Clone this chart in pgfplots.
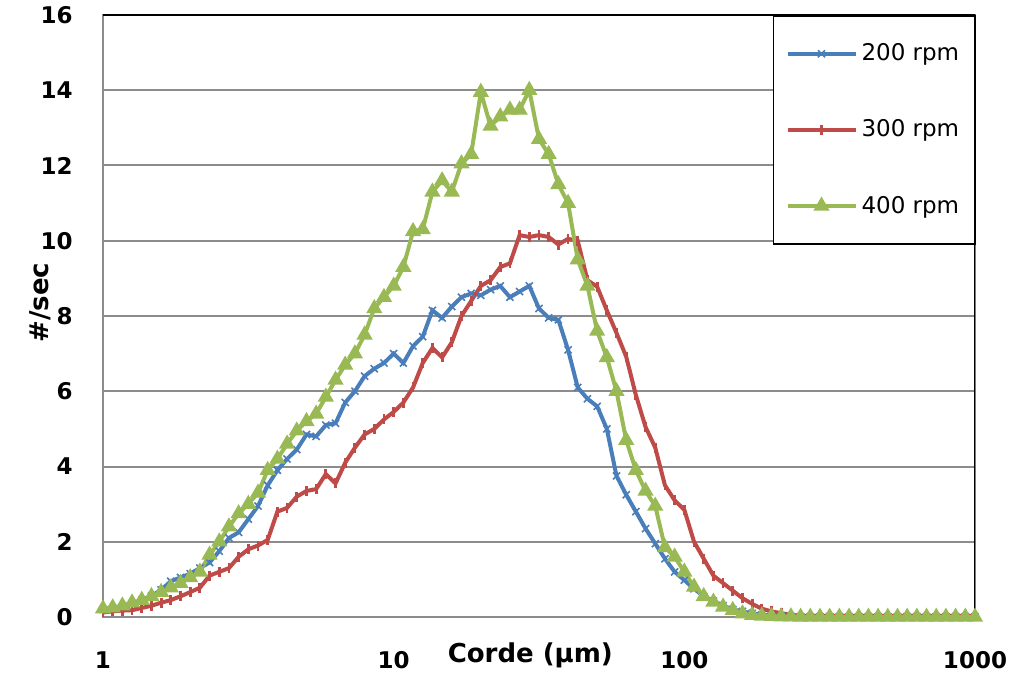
\documentclass[border=0pt]{standalone}
\usepackage{pgfplots}
\pgfplotsset{compat=1.18}
\usepackage{pgfplotstable}
\usepackage{fontspec}
\setmainfont{DejaVu Sans}
\usetikzlibrary{calc}
\definecolor{cb}{HTML}{4A7EBB}
\definecolor{cr}{HTML}{BE4B48}
\definecolor{cg}{HTML}{98B954}
\definecolor{gridc}{HTML}{8C8C8C}

\pgfplotstableread{
x b r g
1.0000 0.20 0.12 0.22
1.0798 0.22 0.15 0.25
1.1659 0.27 0.17 0.30
1.2589 0.34 0.18 0.38
1.3594 0.45 0.24 0.45
1.4678 0.56 0.30 0.55
1.5849 0.72 0.38 0.66
1.7113 0.95 0.45 0.78
1.8478 1.05 0.55 0.90
1.9953 1.15 0.66 1.05
2.1544 1.30 0.78 1.20
2.3263 1.45 1.10 1.65
2.5119 1.75 1.20 2.00
2.7123 2.10 1.30 2.40
2.9286 2.25 1.60 2.75
3.1623 2.60 1.80 3.00
3.4146 2.95 1.90 3.30
3.6869 3.50 2.05 3.90
3.9811 3.90 2.80 4.20
4.2987 4.20 2.90 4.60
4.6416 4.45 3.20 4.95
5.0119 4.85 3.35 5.20
5.4117 4.80 3.40 5.40
5.8434 5.10 3.80 5.85
6.3096 5.15 3.55 6.30
6.8129 5.70 4.10 6.70
7.3564 6.00 4.50 7.00
7.9433 6.40 4.85 7.50
8.5770 6.60 5.00 8.20
9.2611 6.75 5.25 8.50
10.000 7.00 5.45 8.80
10.798 6.75 5.70 9.30
11.659 7.20 6.10 10.25
12.589 7.45 6.75 10.30
13.594 8.15 7.15 11.30
14.678 7.95 6.90 11.60
15.849 8.25 7.30 11.30
17.113 8.50 8.00 12.05
18.478 8.60 8.40 12.30
19.953 8.55 8.80 13.95
21.544 8.70 8.95 13.05
23.263 8.80 9.30 13.30
25.119 8.50 9.40 13.48
27.123 8.65 10.15 13.48
29.286 8.80 10.10 14.00
31.623 8.20 10.15 12.70
34.146 7.95 10.10 12.30
36.869 7.90 9.90 11.50
39.811 7.10 10.05 11.00
42.987 6.10 10.00 9.50
46.416 5.80 8.95 8.80
50.119 5.60 8.78 7.60
54.117 5.00 8.15 6.90
58.434 3.75 7.55 6.00
63.096 3.25 6.92 4.70
68.129 2.80 5.90 3.90
73.564 2.35 5.05 3.35
79.433 1.95 4.50 2.95
85.770 1.55 3.50 1.85
92.611 1.20 3.10 1.60
100.00 0.98 2.85 1.20
107.98 0.75 2.00 0.80
116.59 0.55 1.55 0.55
125.89 0.42 1.10 0.40
135.94 0.30 0.90 0.27
146.78 0.20 0.70 0.18
158.49 0.15 0.50 0.09
171.13 0.10 0.35 0.05
184.78 0.06 0.22 0.03
199.53 0.04 0.15 0.02
215.44 0.03 0.10 0.01
232.63 0.02 0.06 0.01
251.19 0.01 0.03 0.00
271.23 0.01 0.03 0.00
292.86 0.01 0.03 0.00
316.23 0.01 0.03 0.00
341.46 0.01 0.03 0.00
368.69 0.01 0.03 0.00
398.11 0.01 0.03 0.00
429.87 0.01 0.03 0.00
464.16 0.01 0.03 0.00
501.19 0.01 0.03 0.00
541.17 0.01 0.03 0.00
584.34 0.01 0.03 0.00
630.96 0.01 0.03 0.00
681.29 0.01 0.03 0.00
735.64 0.01 0.03 0.00
794.33 0.01 0.03 0.00
857.70 0.01 0.03 0.00
926.11 0.01 0.03 0.00
1000.0 0.01 0.03 0.00
}\data

\begin{document}
\begin{tikzpicture}
\begin{axis}[name=ax, scale only axis, width=436pt, height=301pt,
  xmode=log, log basis x=10, xmin=1, xmax=1000, ymin=0, ymax=16,
  xtick={1,10,100,1000}, xticklabels={1,10,100,1000},
  ytick={0,2,...,16}, minor tick num=0, xminorticks=false,
  major tick length=0pt,
  ymajorgrids, grid style={gridc, line width=1pt},
  axis line style={gridc, line width=0.8pt},
  /pgf/number format/assume math mode=true,
  ticklabel style={font=\bfseries\fontsize{11.5}{13}\selectfont},
  xticklabel style={anchor=center, yshift=-21.5pt},
  yticklabel style={anchor=east, inner sep=0pt, xshift=-15pt},
  xlabel={Corde (µm)}, ylabel={\#/sec},
  label style={font=\bfseries\fontsize{13}{15}\selectfont},
  xlabel style={at={(axis description cs:0.49,0)}, anchor=center, yshift=-19pt},
  ylabel style={at={($(axis description cs:0,0.522)+(-31.5pt,0pt)$)}, anchor=center},
  legend style={at={(rel axis cs:0.768,1)}, anchor=north west, draw=black, line width=0.8pt,
    font=\fontsize{11.5}{13}\selectfont, row sep=24pt, inner xsep=6pt, inner ysep=12pt,
    /tikz/every odd column/.append style={column sep=0pt}},
  legend cell align=left,
  legend image code/.code={\draw[mark repeat=2,mark phase=2,#1] plot coordinates {(0pt,0pt) (17pt,0pt) (34pt,0pt)};},
]
\addplot[cb, line width=2pt, mark=x, mark size=2.5pt, mark options={line width=0.8pt}] table[x=x,y=b]{\data};
\addlegendentry{200 rpm}
\addplot[cr, line width=2pt, mark=|, mark size=2.5pt, mark options={line width=1.4pt}] table[x=x,y=r]{\data};
\addlegendentry{300 rpm}
\addplot[cg, line width=2pt, mark=triangle*, mark size=2.7pt] table[x=x,y=g]{\data};
\addlegendentry{400 rpm}
\draw[black, line width=0.8pt] (rel axis cs:0,1) -- (rel axis cs:1,1) -- (rel axis cs:1,0);
\end{axis}
\pgfresetboundingbox
\path ($(ax.south west)+(-51.5pt,-29pt)$) rectangle ($(ax.north east)+(18pt,7.5pt)$);
\end{tikzpicture}
\end{document}
